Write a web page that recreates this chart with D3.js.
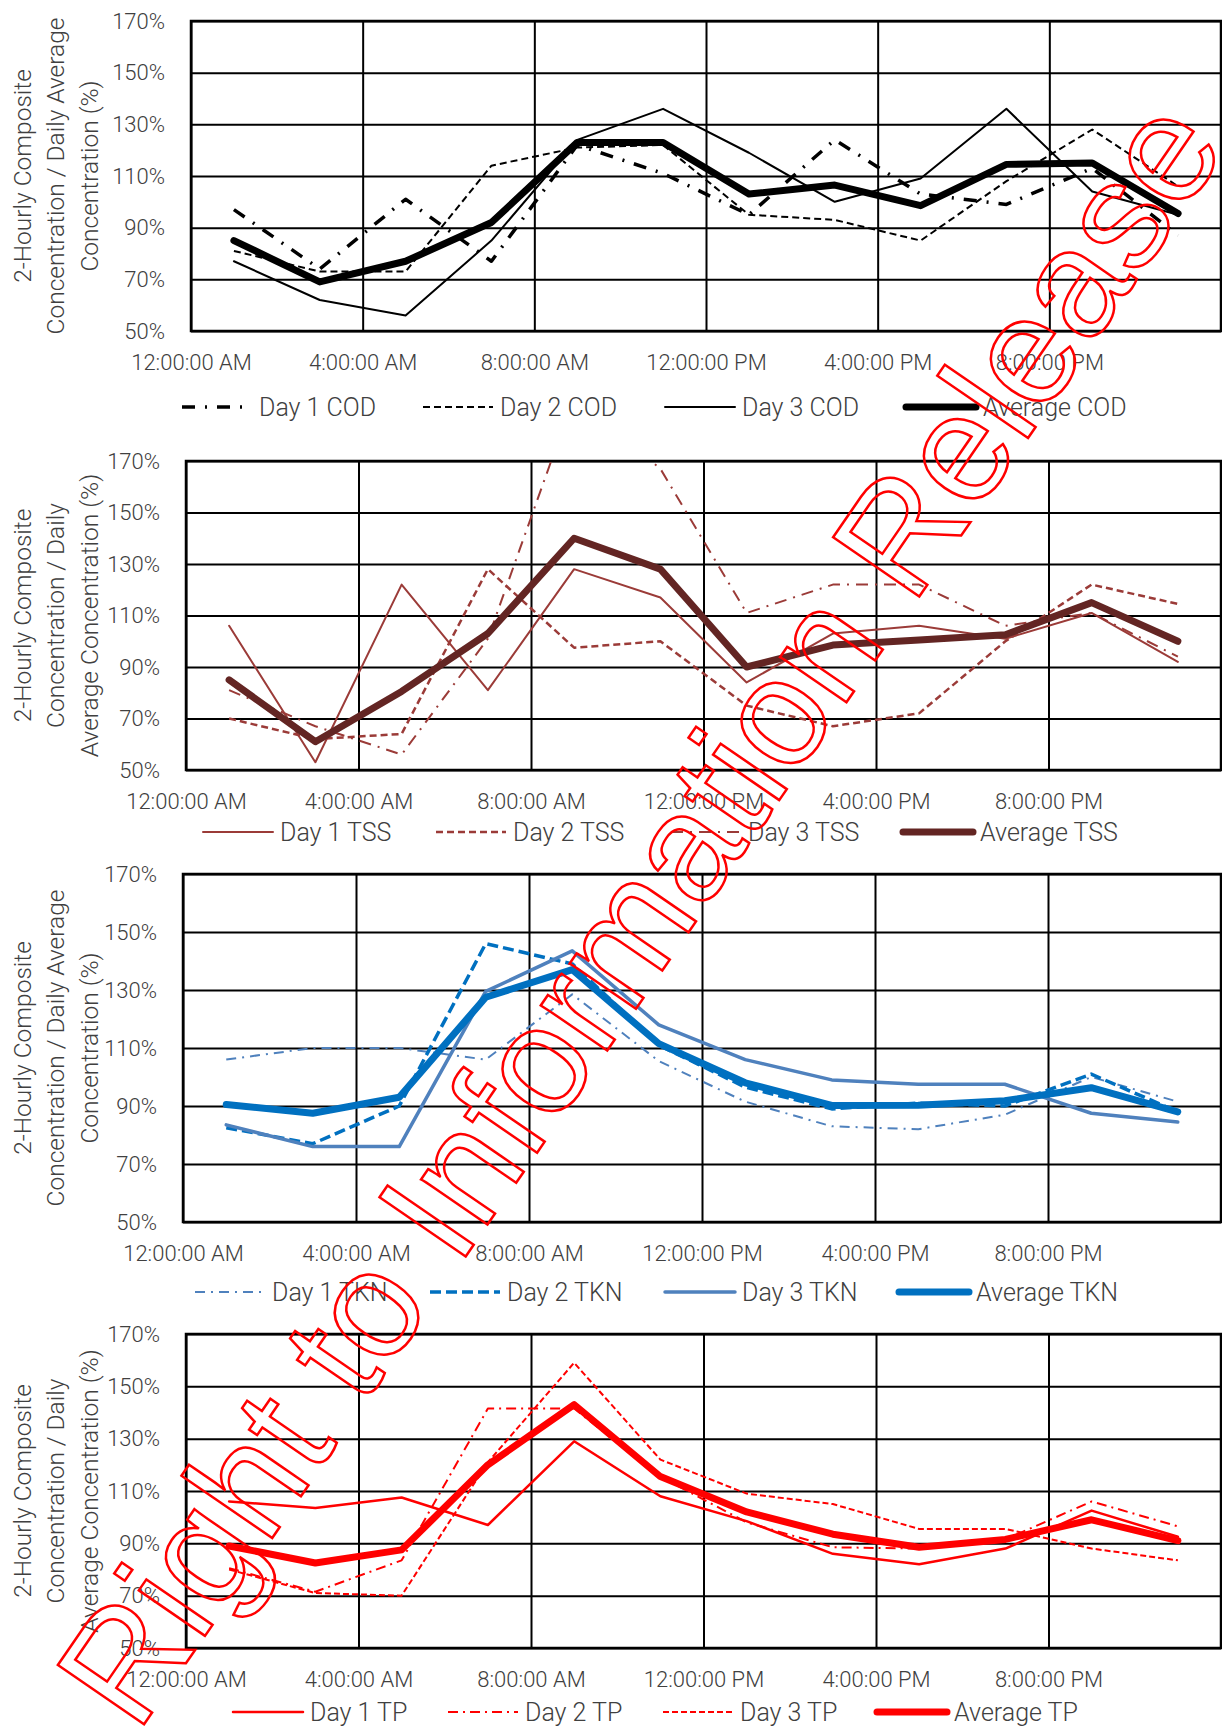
<!DOCTYPE html>
<html>
<head>
<meta charset="utf-8">
<script src="https://cdn.jsdelivr.net/npm/d3@7"></script>
<style>
  html, body { margin: 0; padding: 0; background: #fff; }
  svg { display: block; }
  text { font-family: Roboto, "Liberation Sans", Arial, sans-serif; font-weight: 300; fill: #404040; }
</style>
</head>
<body>
<svg id="drawing_region"></svg>
<script>
// sample times (hour of day, 2-hourly composites)
const hours = [1, 3, 5, 7, 9, 11, 13, 15, 17, 19, 21, 23];
const xTickHours = [0, 4, 8, 12, 16, 20];
const xTickLabels = ["12:00:00 AM", "4:00:00 AM", "8:00:00 AM", "12:00:00 PM", "4:00:00 PM", "8:00:00 PM"];
const yTicks = [50, 70, 90, 110, 130, 150, 170];

// COD (%)
const codDay1 = [97, 74, 101, 77, 122, 111, 95, 124, 103, 99, 113, 87];
const codDay2 = [81, 73, 73, 114, 121, 122, 95, 93, 85, 108, 128, 106];
const codDay3 = [77, 62, 56, 85, 124, 136, 119, 100, 109, 136, 104, 95];
const codAvg  = [85, 69, 77, 92, 123, 123, 103, 106.5, 98.5, 114.5, 115, 95.5];

// TSS (%)
const tssDay1 = [106, 53, 122, 81, 128, 117, 84, 103, 106, 101, 111, 92];
const tssDay2 = [70, 62, 64, 128, 97.5, 100, 75, 67, 72, 100, 122, 114.5];
const tssDay3 = [81, 67, 56, 101, 195, 167, 111, 122, 122, 106, 111, 94];
const tssAvg  = [85, 61, 80.5, 103, 140, 128, 90, 98.5, 100.5, 102.5, 115, 100];

// TKN (%)
const tknDay1 = [106, 110, 110, 106, 128.5, 105.5, 91.5, 83, 82, 87, 100, 91.5];
const tknDay2 = [82.5, 77, 90, 146, 139, 111, 96.5, 89, 91, 90, 101, 88];
const tknDay3 = [83.5, 76, 76, 129.5, 143.5, 118, 106, 99, 97.5, 97.5, 87.5, 84.5];
const tknAvg  = [90.5, 87.5, 93, 127.5, 137, 111.5, 98, 90.2, 90.3, 91.8, 96.3, 88];

// TP (%)
const tpDay1 = [106, 103.5, 107.5, 97, 129, 108, 98.5, 86, 82, 88, 102.5, 92.5];
const tpDay2 = [80.5, 71.5, 83.5, 141.5, 141.5, 115.5, 98, 88.5, 88, 91.5, 106, 96.5];
const tpDay3 = [80, 71, 70, 121, 159, 122, 109, 105, 95.5, 95.5, 88, 83.5];
const tpAvg  = [89, 82.5, 87.5, 120, 143, 115.5, 102, 93.5, 88.5, 91.5, 99, 91];

const titleCodLines = ["2-Hourly Composite", "Concentration / Daily Average", "Concentration (%)"];
const titleTssLines = ["2-Hourly Composite", "Concentration / Daily", "Average Concentration (%)"];

const panels = [
  { box: {left: 191, top: 21, right: 1221, bottom: 331}, legendY: 407, legendX: [259, 500, 742, 983],
    title: titleCodLines,
    series: [
      {name: "Day 1 COD", values: codDay1, color: "#000000", width: 3.5, dash: "13,10,2,10"},
      {name: "Day 2 COD", values: codDay2, color: "#000000", width: 2, dash: "7,4"},
      {name: "Day 3 COD", values: codDay3, color: "#000000", width: 2, dash: null},
      {name: "Average COD", values: codAvg, color: "#000000", width: 7, dash: null}
    ]},
  { box: {left: 186, top: 461, right: 1221, bottom: 770}, legendY: 832, legendX: [280, 513, 748, 980],
    title: titleTssLines,
    series: [
      {name: "Day 1 TSS", values: tssDay1, color: "#9b3b38", width: 2, dash: null},
      {name: "Day 2 TSS", values: tssDay2, color: "#9b3b38", width: 2.5, dash: "7,4"},
      {name: "Day 3 TSS", values: tssDay3, color: "#9b3b38", width: 2, dash: "12,7,2,7"},
      {name: "Average TSS", values: tssAvg, color: "#632523", width: 7, dash: null}
    ]},
  { box: {left: 183, top: 874, right: 1221, bottom: 1222}, legendY: 1292, legendX: [272, 507, 742, 976],
    title: titleCodLines,
    series: [
      {name: "Day 1 TKN", values: tknDay1, color: "#4f81bd", width: 2, dash: "10,6,2,6"},
      {name: "Day 2 TKN", values: tknDay2, color: "#0070c0", width: 3.5, dash: "11,5"},
      {name: "Day 3 TKN", values: tknDay3, color: "#4f81bd", width: 3.5, dash: null},
      {name: "Average TKN", values: tknAvg, color: "#0070c0", width: 7, dash: null}
    ]},
  { box: {left: 186, top: 1334, right: 1221, bottom: 1648}, legendY: 1712, legendX: [310, 525, 740, 954],
    title: titleTssLines,
    series: [
      {name: "Day 1 TP", values: tpDay1, color: "#ff0000", width: 2.5, dash: null},
      {name: "Day 2 TP", values: tpDay2, color: "#ff0000", width: 2, dash: "10,5,2,5"},
      {name: "Day 3 TP", values: tpDay3, color: "#ff0000", width: 2, dash: "6,3"},
      {name: "Average TP", values: tpAvg, color: "#ff0000", width: 7, dash: null}
    ]}
];

const svg = d3.select('#drawing_region')
  .attr('width', 1222)
  .attr('height', 1731);

panels.forEach(p => drawPanel(p));

function drawPanel(p) {
  const b = p.box;
  const w = b.right - b.left;
  const h = b.bottom - b.top;

  const xscale = d3.scaleLinear().domain([0, 24]).range([0, w]);
  const yscale = d3.scaleLinear().domain([50, 170]).range([h, 0]);

  const g = svg.append('g').attr('transform', `translate(${b.left}, ${b.top})`);

  // grid
  g.append('g')
    .call(d3.axisLeft(yscale).tickValues(yTicks).tickSize(-w).tickFormat(''))
    .call(s => s.select('.domain').remove())
    .selectAll('line').attr('stroke', '#000').attr('stroke-width', 2);
  g.append('g')
    .attr('transform', `translate(0, ${h})`)
    .call(d3.axisBottom(xscale).tickValues(xTickHours.concat([24])).tickSize(h).tickFormat(''))
    .call(s => s.select('.domain').remove())
    .selectAll('line').attr('stroke', '#000').attr('stroke-width', 2).attr('y2', -h);

  // axis labels
  g.append('g')
    .call(d3.axisLeft(yscale).tickValues(yTicks).tickSize(0).tickPadding(26).tickFormat(d => d + '%'))
    .call(s => s.select('.domain').remove())
    .selectAll('text').attr('font-size', 22).attr('fill', '#404040');
  g.append('g')
    .attr('transform', `translate(0, ${h})`)
    .call(d3.axisBottom(xscale).tickValues(xTickHours).tickSize(0).tickPadding(23)
      .tickFormat((d, i) => xTickLabels[i]))
    .call(s => s.select('.domain').remove())
    .selectAll('text').attr('font-size', 22).attr('fill', '#404040');

  // frame
  g.append('rect')
    .attr('width', w).attr('height', h)
    .attr('fill', 'none').attr('stroke', '#000').attr('stroke-width', 2.5);

  // series
  const line = d3.line()
    .x((d, i) => xscale(hours[i]))
    .y(d => yscale(d));

  const clipId = 'clip' + b.top;
  g.append('clipPath').attr('id', clipId)
    .append('rect').attr('x', -10).attr('y', 0).attr('width', w + 20).attr('height', h);

  g.append('g').attr('clip-path', `url(#${clipId})`)
    .selectAll('path')
    .data(p.series)
    .join('path')
    .attr('d', d => line(d.values))
    .attr('fill', 'none')
    .attr('stroke', d => d.color)
    .attr('stroke-width', d => d.width)
    .attr('stroke-dasharray', d => d.dash)
    .attr('stroke-linejoin', 'round')
    .attr('stroke-linecap', d => d.dash ? 'butt' : 'round');

  // y title
  const cy = b.top + h / 2;
  const titleX = [22, 55, 89];
  svg.append('g').selectAll('text')
    .data(p.title)
    .join('text')
    .attr('transform', (d, i) => `translate(${titleX[i]}, ${cy}) rotate(-90)`)
    .attr('text-anchor', 'middle')
    .attr('dy', '0.35em')
    .attr('font-size', 24.5)
    .text(d => d);

  // legend
  const lg = svg.append('g');
  p.series.forEach((s, i) => {
    const tx = p.legendX[i];
    lg.append('line')
      .attr('x1', tx - 77).attr('x2', tx - 7)
      .attr('y1', p.legendY).attr('y2', p.legendY)
      .attr('stroke', s.color)
      .attr('stroke-width', s.width)
      .attr('stroke-dasharray', s.dash)
      .attr('stroke-linecap', s.dash ? 'butt' : 'round');
    lg.append('text')
      .attr('x', tx).attr('y', p.legendY)
      .attr('dy', '0.35em')
      .attr('font-size', 25)
      .text(s.name);
  });
}

// watermark
svg.append('text')
  .attr('transform', 'translate(645, 915) rotate(-55.5)')
  .attr('text-anchor', 'middle')
  .attr('dy', '0.3em')
  .style('font-family', '"Liberation Sans", Arial, sans-serif')
  .style('font-weight', 400)
  .style('fill', 'none')
  .attr('stroke', '#ff0000')
  .attr('stroke-width', 2.5)
  .attr('font-size', 152)
  .text('Right to Information Release');
</script>
</body>
</html>
